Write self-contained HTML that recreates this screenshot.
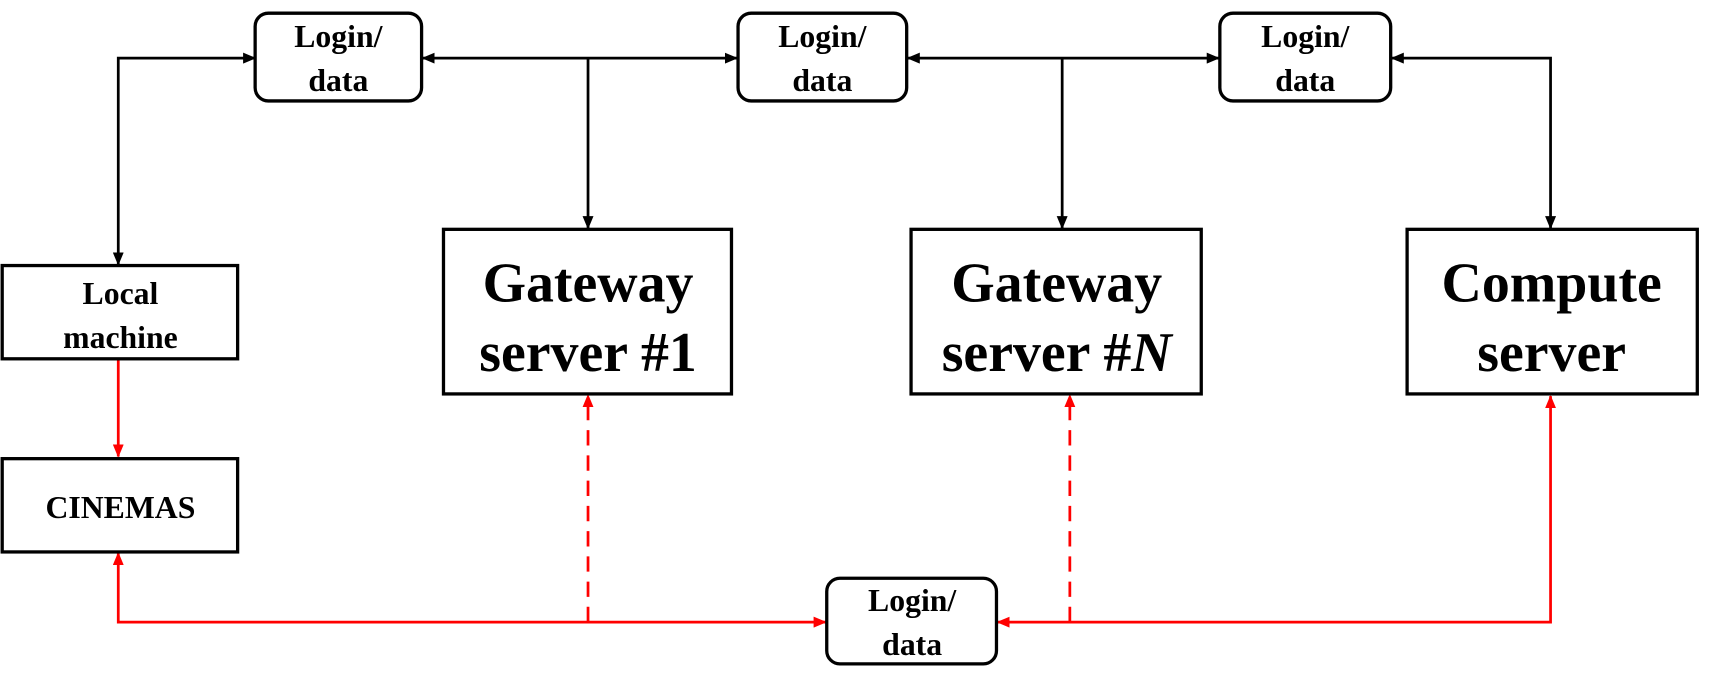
<!DOCTYPE html>
<html><head><meta charset="utf-8"><style>
html,body{margin:0;padding:0;background:#fff;}
svg{display:block;}
text{font-family:"Liberation Serif",serif;font-weight:bold;text-anchor:middle;fill:#000;}
</style></head><body>
<svg width="1717" height="688" viewBox="0 0 1568 627" preserveAspectRatio="none" xmlns="http://www.w3.org/2000/svg">
<defs>
<marker id="ab" markerWidth="12" markerHeight="10" refX="11" refY="5" orient="auto-start-reverse" markerUnits="userSpaceOnUse"><path d="M0,0 L12,5 L0,10 z" fill="#000"/></marker>
<marker id="ar" markerWidth="12" markerHeight="10" refX="11" refY="5" orient="auto-start-reverse" markerUnits="userSpaceOnUse"><path d="M0,0 L12,5 L0,10 z" fill="#f00"/></marker>
</defs>
<g stroke="#000" stroke-width="2.5" fill="none">
<path d="M108,241 L108,53 L233,53" marker-start="url(#ab)" marker-end="url(#ab)"/>
<path d="M386,53 L673,53" marker-start="url(#ab)" marker-end="url(#ab)"/>
<path d="M537,53 L537,208" marker-end="url(#ab)"/>
<path d="M829,53 L1113,53" marker-start="url(#ab)" marker-end="url(#ab)"/>
<path d="M970,53 L970,208" marker-end="url(#ab)"/>
<path d="M1271,53 L1416,53 L1416,208" marker-start="url(#ab)" marker-end="url(#ab)"/>
</g>
<g stroke="#f00" stroke-width="2.5" fill="none">
<path d="M108,328 L108,416" marker-end="url(#ar)"/>
<path d="M108,504 L108,567 L754,567" marker-start="url(#ar)" marker-end="url(#ar)"/>
<path d="M1416,361 L1416,567 L911,567" marker-start="url(#ar)" marker-end="url(#ar)"/>
<path d="M537,567 L537,360" stroke-dasharray="14,9" marker-end="url(#ar)"/>
<path d="M977,567 L977,360" stroke-dasharray="14,9" marker-end="url(#ar)"/>
</g>
<g stroke="#000" stroke-width="3" fill="#fff">
<rect x="233" y="12" width="152" height="80" rx="12"/>
<rect x="674" y="12" width="154" height="80" rx="12"/>
<rect x="1114" y="12" width="156" height="80" rx="12"/>
<rect x="755" y="527" width="155" height="78" rx="12"/>
<rect x="2" y="242" width="215" height="85"/>
<rect x="2" y="418" width="215" height="85"/>
<rect x="405" y="209" width="263" height="150"/>
<rect x="832" y="209" width="265" height="150"/>
<rect x="1285" y="209" width="265" height="150"/>
</g>
<g font-size="29">
<text x="309" y="43">Login/</text><text x="309" y="83">data</text>
<text x="751" y="43">Login/</text><text x="751" y="83">data</text>
<text x="1192" y="43">Login/</text><text x="1192" y="83">data</text>
<text x="833" y="557">Login/</text><text x="833" y="597">data</text>
<text x="110" y="277">Local</text><text x="110" y="317">machine</text>
<text x="110" y="472">CINEMAS</text>
</g>
<g font-size="51">
<text x="537" y="275">Gateway</text><text x="537" y="338">server #1</text>
<text x="965" y="275">Gateway</text><text x="965" y="338">server #<tspan font-style="italic">N</tspan></text>
<text x="1417" y="275">Compute</text><text x="1417" y="338">server</text>
</g>
</svg>
</body></html>
